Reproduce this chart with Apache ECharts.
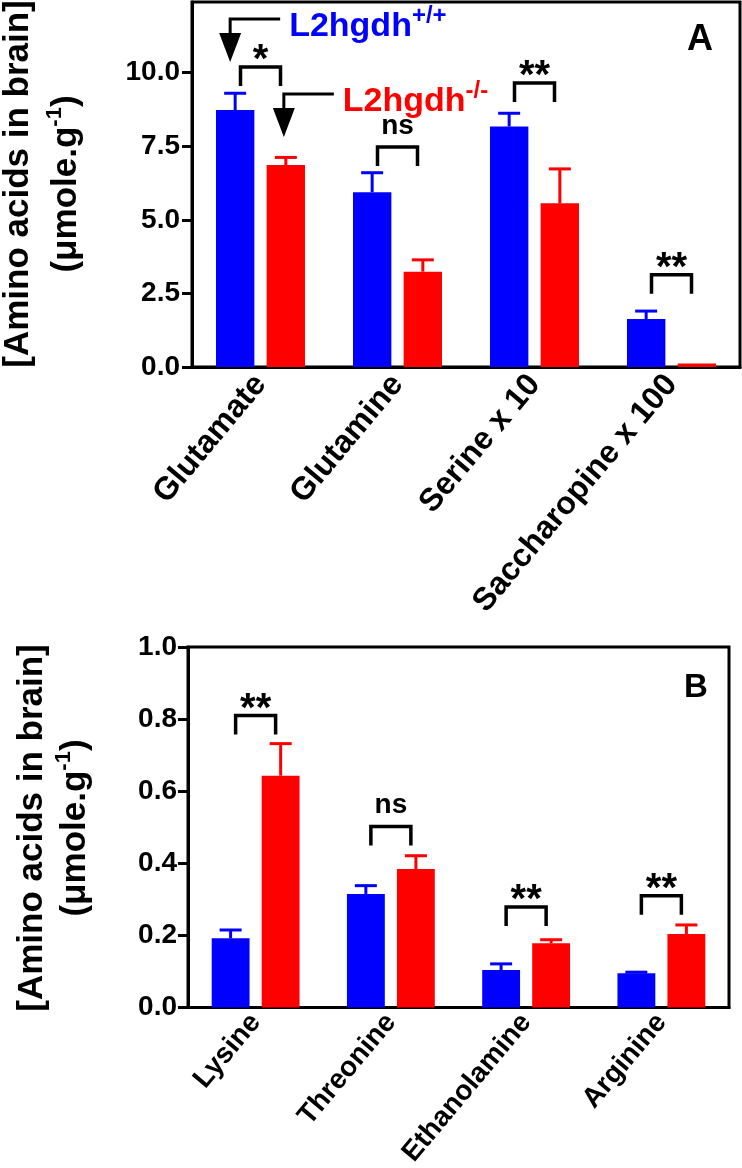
<!DOCTYPE html>
<html>
<head>
<meta charset="utf-8">
<script src="https://cdn.jsdelivr.net/npm/echarts@6/dist/echarts.min.js"></script>
<style>
html,body{margin:0;padding:0;background:#fff;}
#c{width:742px;height:1168px;}
</style>
</head>
<body>
<div id="c"></div>
<script>
// ---- data ----
const catsA = ['Glutamate', 'Glutamine', 'Serine x 10', 'Saccharopine x 100'];
const wtA = [8.73, 5.94, 8.17, 1.63];
const wtErrA = [0.57, 0.66, 0.45, 0.27];
const koA = [6.86, 3.24, 5.56, 0.12];
const koErrA = [0.26, 0.40, 1.17, 0];
const sigA = ['*', 'ns', '**', '**'];
const sigTopA = [10.19, 7.47, 9.65, 3.13];
const ticksA = [0, 2.5, 5, 7.5, 10];

const catsB = ['Lysine', 'Threonine', 'Ethanolamine', 'Arginine'];
const wtB = [0.192, 0.315, 0.104, 0.095];
const wtErrB = [0.023, 0.023, 0.017, 0.003];
const koB = [0.643, 0.384, 0.178, 0.204];
const koErrB = [0.089, 0.037, 0.010, 0.025];
const sigB = ['**', 'ns', '**', '**'];
const sigTopB = [0.81, 0.502, 0.279, 0.31];
const ticksB = [0, 0.2, 0.4, 0.6, 0.8, 1.0];

const legendTipA = [10.36, 7.81];

// ---- style ----
const FONT = 'Liberation Sans, Arial, Helvetica, sans-serif';
const BLUE = '#0000ff';
const RED = '#ff0000';
const OFF = 0.185; // bar center offset as fraction of band

const chart = echarts.init(document.getElementById('c'), null, {renderer: 'canvas'});

function errSeries(vals, errs, sign, color, gi) {
  return {
    type: 'custom', xAxisIndex: gi, yAxisIndex: gi, z: 5,
    data: vals.map((v, i) => [i, v, errs[i]]),
    encode: {x: 0, y: 1},
    renderItem: function (params, api) {
      const i = api.value(0), v = api.value(1), e = api.value(2);
      if (!e) return null;
      const band = api.size([1, 0])[0];
      const p0 = api.coord([i, v]);
      const p1 = api.coord([i, v + e]);
      const x = p0[0] + sign * band * OFF;
      const st = {stroke: color, lineWidth: 3};
      return {type: 'group', children: [
        {type: 'line', shape: {x1: x, y1: p0[1], x2: x, y2: p1[1]}, style: st},
        {type: 'line', shape: {x1: x - 11, y1: p1[1], x2: x + 11, y2: p1[1]}, style: st}
      ]};
    }
  };
}

function sigSeries(tops, labels, gi) {
  return {
    type: 'custom', xAxisIndex: gi, yAxisIndex: gi, z: 6,
    data: tops.map((t, i) => [i, t]),
    encode: {x: 0, y: 1},
    renderItem: function (params, api) {
      const i = api.value(0), t = api.value(1);
      const c = api.coord([i, t]);
      const lab = labels[params.dataIndex];
      const isStar = lab.indexOf('*') >= 0;
      return {type: 'group', children: [
        {type: 'polyline', shape: {points: [[c[0] - 20, c[1] + 19], [c[0] - 20, c[1]], [c[0] + 20, c[1]], [c[0] + 20, c[1] + 19]]},
         style: {stroke: '#000', lineWidth: 3.5, fill: null}},
        {type: 'text', style: {text: lab, x: c[0], y: isStar ? c[1] - 6 : c[1] - 21,
          align: 'center', verticalAlign: 'middle', fill: '#000',
          fontSize: isStar ? 40 : 28, fontWeight: 'bold', fontFamily: FONT}}
      ]};
    }
  };
}

function xAxisCfg(cats, gi, fs, margin) {
  return {
    type: 'category', gridIndex: gi, data: cats,
    axisLine: {lineStyle: {color: '#000', width: 3}},
    axisTick: {show: false},
    axisLabel: {rotate: 50, interval: 0, margin: margin, color: '#000', fontSize: fs, fontWeight: 'bold', fontFamily: FONT}
  };
}
function yAxisCfg(max, interval, ticks, gi, margin) {
  return {
    type: 'value', gridIndex: gi, min: 0, max: max, interval: interval,
    splitLine: {show: false},
    axisLine: {show: true, lineStyle: {color: '#000', width: 3}},
    axisTick: {show: true, length: 10, lineStyle: {color: '#000', width: 3}, customValues: ticks},
    axisLabel: {margin: margin, color: '#000', fontSize: 28, fontWeight: 'bold', fontFamily: FONT,
      customValues: ticks, formatter: v => v.toFixed(1)}
  };
}

const option = {
  animation: false,
  backgroundColor: '#fff',
  grid: [
    {left: 192, top: 2, right: 2, height: 365, show: true, borderColor: '#000', borderWidth: 3,
     containLabel: false, outerBoundsMode: 'none'},
    {left: 188, top: 647, right: 13, height: 360.5, show: true, borderColor: '#000', borderWidth: 3,
     containLabel: false, outerBoundsMode: 'none'}
  ],
  xAxis: [xAxisCfg(catsA, 0, 32, 12), xAxisCfg(catsB, 1, 28, 10)],
  yAxis: [yAxisCfg(12.4, 2.5, ticksA, 0, 12), yAxisCfg(1, 0.2, ticksB, 1, 11)],
  series: [
    {type: 'bar', name: 'L2hgdh+/+', xAxisIndex: 0, yAxisIndex: 0, data: wtA, barWidth: '28%', barGap: '32%', itemStyle: {color: BLUE}},
    {type: 'bar', name: 'L2hgdh-/-', xAxisIndex: 0, yAxisIndex: 0, data: koA, barWidth: '28%', barGap: '32%', itemStyle: {color: RED}},
    {type: 'bar', name: 'L2hgdh+/+', xAxisIndex: 1, yAxisIndex: 1, data: wtB, barWidth: '28%', barGap: '32%', itemStyle: {color: BLUE}},
    {type: 'bar', name: 'L2hgdh-/-', xAxisIndex: 1, yAxisIndex: 1, data: koB, barWidth: '28%', barGap: '32%', itemStyle: {color: RED}},
    errSeries(wtA, wtErrA, -1, BLUE, 0),
    errSeries(koA, koErrA, 1, RED, 0),
    errSeries(wtB, wtErrB, -1, BLUE, 1),
    errSeries(koB, koErrB, 1, RED, 1),
    sigSeries(sigTopA, sigA, 0),
    sigSeries(sigTopB, sigB, 1)
  ]
};
chart.setOption(option);

// ---- annotations (legend arrows, titles, panel letters) ----
const f = {xAxisIndex: 0, yAxisIndex: 0};
const c0 = chart.convertToPixel(f, [0, 0]);
const c1 = chart.convertToPixel(f, [1, 0]);
const bandA = c1[0] - c0[0];
const tipB = chart.convertToPixel(f, [0, legendTipA[0]]);
const tipR = chart.convertToPixel(f, [0, legendTipA[1]]);
tipB[0] -= bandA * OFF + 5;
tipR[0] += bandA * OFF - 2;

function arrow(tip, color, textRich) {
  const bx = tip[0], by = tip[1];
  const headH = 29, stemH = 14, horiz = 50;
  return [
    {type: 'polygon', shape: {points: [[bx - 11, by - headH], [bx + 11, by - headH], [bx, by]]}, style: {fill: '#000'}},
    {type: 'polyline', shape: {points: [[bx, by - headH + 1], [bx, by - headH - stemH], [bx + horiz, by - headH - stemH]]},
     style: {stroke: '#000', lineWidth: 3, fill: null}},
    {type: 'text', x: bx + horiz + 9, y: by - headH - stemH + 5,
     style: {text: textRich, align: 'left', verticalAlign: 'middle', fontFamily: FONT,
       rich: {
         a: {fontSize: 34, fontWeight: 'bold', fill: color, fontFamily: FONT, lineHeight: 40, verticalAlign: 'bottom'},
         s: {fontSize: 24, fontWeight: 'bold', fill: color, fontFamily: FONT, verticalAlign: 'top'}
       }}}
  ];
}

function yTitle(x1, x2, cy) {
  return [
    {type: 'text', x: x1, y: cy, rotation: Math.PI / 2,
     style: {text: '[Amino acids in brain]', align: 'center', verticalAlign: 'middle', fill: '#000',
       fontSize: 35, fontWeight: 'bold', fontFamily: FONT}},
    {type: 'text', x: x2, y: cy, rotation: Math.PI / 2,
     style: {text: '{a|(μmole.g}{s|-1}{a|)}', align: 'center', verticalAlign: 'middle', fontFamily: FONT,
       rich: {
         a: {fontSize: 35, fontWeight: 'bold', fill: '#000', fontFamily: FONT, lineHeight: 40, verticalAlign: 'bottom'},
         s: {fontSize: 22, fontWeight: 'bold', fill: '#000', fontFamily: FONT, verticalAlign: 'top'}
       }}}
  ];
}

const gfx = []
  .concat(arrow(tipB, BLUE, '{a|L2hgdh}{s|+/+}'))
  .concat(arrow(tipR, RED, '{a|L2hgdh}{s|-/-}'))
  .concat(yTitle(18, 64, 184))
  .concat(yTitle(32, 73, 828))
  .concat([
    {type: 'text', x: 700, y: 40, style: {text: 'A', align: 'center', verticalAlign: 'middle', fill: '#000', fontSize: 36, fontWeight: 'bold', fontFamily: FONT}},
    {type: 'text', x: 696, y: 688, style: {text: 'B', align: 'center', verticalAlign: 'middle', fill: '#000', fontSize: 33, fontWeight: 'bold', fontFamily: FONT}}
  ]);
chart.setOption({graphic: gfx});
</script>
</body>
</html>
